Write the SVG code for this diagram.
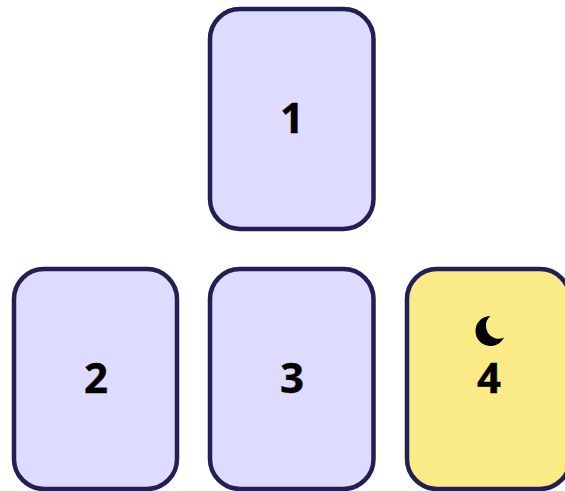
<svg xmlns="http://www.w3.org/2000/svg" width="565" height="491" viewBox="0 0 565 491">
<style>
.c{fill:#dddcff;stroke:#231e54;stroke-width:4.500}
.y{fill:#faeb86}
text{font-family:"Noto Sans","Open Sans",sans-serif;font-weight:700;font-size:42px;text-anchor:middle;fill:#000;stroke:#000;stroke-width:.4}
</style>
<g id="node-1"><rect class="c" x="210" y="9" width="163.500" height="220" rx="30"/><text x="292" y="133">1</text></g>
<g id="node-2"><rect class="c" x="14" y="269" width="163" height="220" rx="30"/><text x="96" y="393">2</text></g>
<g id="node-3"><rect class="c" x="210" y="269" width="163.500" height="220" rx="30"/><text x="292" y="393">3</text></g>
<g id="node-4"><rect class="c y" x="407" y="269" width="163" height="220" rx="30"/><path d="M490.500 316A15 15 0 1 0 504 337.500A12.800 12.800 0 0 1 490.500 316z" fill="#000"/><text x="489" y="393">4</text></g>
<g id="connectors"></g>
</svg>
